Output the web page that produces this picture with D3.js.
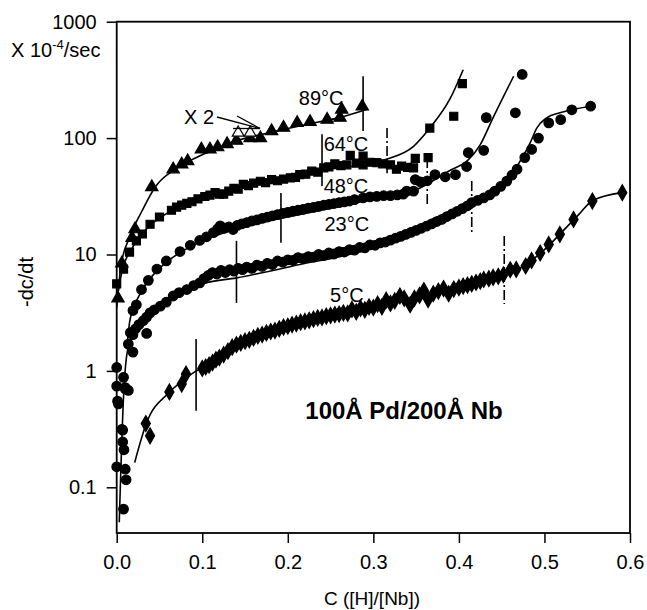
<!DOCTYPE html>
<html>
<head>
<meta charset="utf-8">
<script src="https://cdn.jsdelivr.net/npm/d3@7"></script>
<style>
  body { margin: 0; background: #fff; }
  svg text { font-family: "Liberation Sans", Arial, Helvetica, sans-serif; fill: #000; }
</style>
</head>
<body>
<script>
// ---- data: [C, -dc/dt] ----
const xTicks = [0.0, 0.1, 0.2, 0.3, 0.4, 0.5, 0.6];
const yTicks = [0.1, 1, 10, 100, 1000];
const yTickLabels = ['0.1', '1', '10', '100', '1000'];

// 89 C, triangles
const t89 = [[0.0015,4.2],[0.006,8.4],[0.018,13.9],[0.0215,16.5],[0.041,38],[0.066,54],[0.076,59.5],
  [0.083,63.5],[0.099,80],[0.109,80],[0.118,83.7],[0.129,88.9],[0.140,95],[0.156,100],[0.168,100],
  [0.181,115],[0.195,123],[0.211,135],[0.226,138],[0.246,144],[0.261,150],[0.263,176],[0.287,187]];
const t89open = [[0.142,111],[0.156,111]];
const fit89 = [[0.0,3.5],[0.005,8],[0.015,14],[0.03,24],[0.045,38],[0.07,55],[0.1,72],[0.14,95],
  [0.18,112],[0.22,130],[0.26,150],[0.294,178]];

// 64 C, squares
const t64 = [[0.0,5.6],[0.008,7.5],[0.015,10.5],[0.023,13.1],[0.030,15],[0.039,18.2],[0.050,21],
  [0.064,24],[0.070,25.5],[0.076,26.6],[0.082,27.5],[0.088,28.4],[0.095,30],[0.103,31.5],[0.109,32.4],
  [0.115,34],[0.120,33],[0.125,33],[0.131,35],[0.137,37],[0.142,36.5],[0.148,40],[0.154,39],[0.160,41],
  [0.168,42.6],[0.174,41.5],[0.181,44],[0.188,43],[0.195,44.5],[0.203,45.6],[0.209,46],[0.214,48.5],
  [0.221,49],[0.228,52],[0.235,51],[0.242,55.5],[0.248,56.5],[0.255,60],[0.262,58],[0.269,59],
  [0.273,71],[0.280,61],[0.288,70],[0.288,59],[0.296,62],[0.304,61.5],[0.311,60],[0.320,59],
  [0.327,54],[0.333,57.5],[0.340,56],[0.347,55.5],[0.349,67],[0.364,68],[0.366,122],[0.394,154],[0.404,294]];
const fit64 = [[0.0,4],[0.005,6.5],[0.02,12],[0.04,18],[0.07,25],[0.1,30],[0.15,39],[0.2,46],
  [0.24,53],[0.288,59],[0.316,66],[0.347,85],[0.366,122],[0.39,220],[0.405,387]];

// 48 C, circles
const t48 = [[0.019,3.3],[0.023,3.7],[0.029,5.0],[0.037,6.0],[0.047,7.5],[0.058,8.8],[0.074,10.6],
  [0.086,12.0],[0.097,13.2],[0.105,14.2],[0.113,15.4],[0.118,16.6],[0.121,17.6],[0.126,16.8],[0.131,17.3],
  [0.136,16.4],[0.141,17.8],[0.146,18.3],[0.152,18.8],[0.158,19.4],[0.164,19.8],[0.170,20.4],[0.176,20.9],
  [0.182,21.5],[0.188,22.0],[0.194,22.6],[0.200,23.0],[0.206,23.6],[0.212,24.0],[0.218,24.4],[0.224,25.0],
  [0.230,25.4],[0.236,25.9],[0.242,26.5],[0.248,26.9],[0.254,27.4],[0.260,27.9],[0.266,28.3],[0.272,28.8],
  [0.278,29.6],[0.288,30.6],[0.296,31.3],[0.304,31.6],[0.312,32.0],[0.320,32.0],[0.328,32.5],[0.335,33.0],
  [0.339,35.0],[0.347,35.0],[0.349,44.0],[0.355,42.0],[0.363,43.0],[0.372,48.5],[0.384,46.5],[0.396,48.5],
  [0.409,57.0],[0.411,75.0],[0.429,78.5],[0.432,150],[0.466,165],[0.474,352]];
const fit48 = [[0.012,1.6],[0.015,2.6],[0.02,3.5],[0.03,5.0],[0.05,7.6],[0.075,10.5],[0.1,13],[0.15,17.5],
  [0.2,21],[0.25,25],[0.3,30],[0.35,36],[0.39,53],[0.41,64],[0.425,88],[0.44,150],[0.464,340]];

// 23 C, circles
const t23 = [[0.0,0.74],[0.010,0.72],[0.0136,0.68],[0.002,0.52],[0.007,0.31],[0.007,0.245],[0.0085,0.21],
  [0.0,0.15],[0.010,0.143],[0.011,0.116],[0.008,0.065],[0.0,1.07],[0.008,0.88],[0.010,0.70],[0.001,0.55],
  [0.006,0.315],[0.0136,1.7],[0.016,2.13],[0.019,1.45],[0.019,2.05],[0.022,2.3],[0.026,2.5],[0.031,2.7],
  [0.035,2.1],[0.035,2.9],[0.039,3.15],[0.044,3.35],[0.051,3.6],[0.058,3.9],[0.066,4.4],[0.073,4.7],
  [0.082,5.0],[0.090,5.4],[0.097,5.7],[0.102,6.2],[0.107,6.6],[0.112,7.0],[0.117,6.8],[0.122,7.3],
  [0.127,7.0],[0.132,7.4],[0.137,7.2],[0.142,7.6],[0.147,7.4],[0.152,7.8],[0.158,7.6],[0.164,8.1],
  [0.170,7.9],[0.176,8.4],[0.182,8.2],[0.188,8.8],[0.194,8.6],[0.200,9.0],[0.206,8.9],[0.212,9.4],
  [0.218,9.2],[0.224,9.6],[0.230,9.5],[0.236,10.0],[0.242,9.8],[0.248,10.3],[0.254,10.1],[0.260,10.6],
  [0.266,10.5],[0.272,11.0],[0.278,10.9],[0.284,11.5],[0.290,11.4],[0.296,12.1],[0.302,12.0],[0.308,12.6],
  [0.314,12.8],[0.320,13.3],[0.326,13.8],[0.332,14.3],[0.338,14.9],[0.344,15.5],[0.350,16.1],[0.356,16.8],
  [0.362,17.5],[0.368,18.3],[0.374,19.2],[0.380,20.0],[0.386,21.2],[0.392,22.3],[0.398,23.5],[0.404,24.8],
  [0.410,26.2],[0.415,27.9],[0.422,29.2],[0.429,30.6],[0.436,32.5],[0.442,35],[0.449,38.5],[0.456,42.7],
  [0.462,48],[0.468,54],[0.477,68],[0.485,80],[0.493,100],[0.505,135],[0.519,144],[0.532,175],[0.554,188]];
const fit23 = [[0.003,0.05],[0.008,0.6],[0.012,1.4],[0.02,2.1],[0.035,2.9],[0.05,3.6],[0.07,4.5],
  [0.1,5.6],[0.14,6.3],[0.214,8.2],[0.285,10.7],[0.331,14.9],[0.386,22.8],[0.415,28],[0.44,34],
  [0.46,47],[0.475,70],[0.483,90],[0.491,122],[0.503,150],[0.518,165],[0.554,188]];

// 5 C, diamonds
const t5 = [[0.034,0.353],[0.039,0.277],[0.0616,0.66],[0.076,0.77],[0.081,0.94],[0.100,1.05],[0.104,1.08],
  [0.108,1.12],[0.112,1.18],[0.116,1.25],[0.120,1.30],[0.125,1.38],[0.130,1.48],[0.135,1.60],[0.140,1.68],
  [0.145,1.74],[0.150,1.80],[0.155,1.85],[0.160,1.92],[0.165,2.00],[0.170,2.05],[0.175,2.12],[0.180,2.18],
  [0.185,2.22],[0.190,2.30],[0.195,2.38],[0.200,2.42],[0.205,2.50],[0.210,2.55],[0.215,2.62],[0.220,2.66],
  [0.225,2.72],[0.230,2.78],[0.235,2.85],[0.240,2.88],[0.245,2.95],[0.250,3.00],[0.255,3.05],[0.260,3.08],
  [0.265,3.15],[0.270,3.12],[0.275,3.38],[0.280,3.22],[0.285,3.45],[0.290,3.35],[0.295,3.55],[0.300,3.50],
  [0.305,3.75],[0.310,3.55],[0.315,4.05],[0.320,3.80],[0.325,4.00],[0.331,4.40],[0.336,4.20],[0.343,3.70],
  [0.348,4.20],[0.354,4.45],[0.359,4.90],[0.364,4.10],[0.370,4.60],[0.376,4.85],[0.382,5.10],[0.388,4.60],
  [0.394,5.05],[0.400,5.20],[0.405,5.35],[0.410,5.45],[0.415,5.60],[0.420,5.75],[0.425,5.90],[0.429,6.10],
  [0.435,6.20],[0.440,6.35],[0.446,6.50],[0.452,6.70],[0.460,7.40],[0.467,7.45],[0.478,7.97],[0.485,8.9],
  [0.495,10.3],[0.505,12.2],[0.518,14.9],[0.534,20],[0.556,28.8],[0.591,34]];
const fit5 = [[0.021,0.163],[0.035,0.36],[0.06,0.64],[0.08,0.85],[0.093,1.0],[0.1,1.05],[0.14,1.65],
  [0.2,2.45],[0.25,2.95],[0.3,3.5],[0.35,4.2],[0.4,5.2],[0.45,6.6],[0.47,7.5],[0.485,8.9],[0.5,11],
  [0.52,15.5],[0.54,22],[0.556,29],[0.591,34]];

// vertical markers: [C, top, bottom, dashed]
const bounds = [[0.288,340,115,false],[0.24,108,38.7,false],[0.316,122,50,true],[0.192,33.7,12.6,false],
  [0.363,67.4,27.1,true],[0.140,13.1,3.84,false],[0.415,42.7,15.0,true],[0.0928,1.88,0.454,false],
  [0.453,14.4,3.76,true]];

// temperature labels: [text, C, value at baseline]
const tempLabels = [['89°C',0.239,192],['64°C',0.268,77.3],['48°C',0.268,33.7],['23°C',0.269,15.9],['5°C',0.269,3.91]];

// ---- layout ----
const W = 647, H = 610;
const svg = d3.select('body').append('svg').attr('width', W).attr('height', H);

const x = d3.scaleLinear().domain([0, 0.6]).range([116.7, 630]);
const y = d3.scaleLog().domain([0.0405, 1000]).range([533, 21.7]);

// frame
svg.append('rect')
  .attr('x', x(0)).attr('y', y(1000))
  .attr('width', x(0.6) - x(0)).attr('height', y(0.0405) - y(1000))
  .attr('fill', 'none').attr('stroke', '#000').attr('stroke-width', 1.8);

// axes
const xAxis = svg.append('g').attr('transform', `translate(0,${y(0.0405)})`)
  .call(d3.axisBottom(x).tickValues(xTicks).tickFormat(d3.format('.1f')).tickSize(10).tickPadding(12));
const yAxis = svg.append('g').attr('transform', `translate(${x(0)},0)`)
  .call(d3.axisLeft(y).tickValues(yTicks).tickFormat((d, i) => yTickLabels[i]).tickSize(10).tickPadding(10));
[xAxis, yAxis].forEach(a => {
  a.select('.domain').remove();
  a.selectAll('line').attr('stroke', '#000').attr('stroke-width', 1.5);
  a.selectAll('text').style('font-size', '20px').attr('fill', '#000');
});

// axis titles
svg.append('text').attr('x', 372).attr('y', 605).attr('text-anchor', 'middle')
  .style('font-size', '19px').text('C ([H]/[Nb])');
svg.append('text').attr('transform', 'translate(33,282) rotate(-90)').attr('text-anchor', 'middle')
  .style('font-size', '20px').text('-dc/dt');
const unit = svg.append('text').attr('x', 11).attr('y', 57).style('font-size', '20px');
unit.append('tspan').text('X 10');
unit.append('tspan').attr('dy', -8).style('font-size', '13px').text('-4');
unit.append('tspan').attr('dy', 8).text('/sec');

// fit lines
const line = d3.line().x(d => x(d[0])).y(d => y(d[1])).curve(d3.curveMonotoneX);
[fit89, fit64, fit48, fit23, fit5].forEach(f => {
  svg.append('path').attr('d', line(f)).attr('fill', 'none').attr('stroke', '#000').attr('stroke-width', 1.6);
});

// vertical boundary marks
svg.selectAll('line.bound').data(bounds).join('line').attr('class', 'bound')
  .attr('x1', d => x(d[0])).attr('x2', d => x(d[0]))
  .attr('y1', d => y(d[1])).attr('y2', d => y(d[2]))
  .attr('stroke', '#000').attr('stroke-width', 1.6)
  .attr('stroke-dasharray', d => d[3] ? '10,3,2,3' : null);

// markers
const sym = (type, size) => d3.symbol().type(type).size(size)();
function drawPoints(data, type, size, fill) {
  svg.append('g').selectAll('path').data(data).join('path')
    .attr('transform', d => `translate(${x(d[0])},${y(d[1])})`)
    .attr('d', sym(type, size))
    .attr('fill', fill).attr('stroke', '#000').attr('stroke-width', 1.2);
}
drawPoints(t89, d3.symbolTriangle, 66, '#000');
drawPoints(t89open, d3.symbolTriangle, 60, '#fff');
drawPoints(t64, d3.symbolSquare, 64, '#000');
drawPoints(t48, d3.symbolCircle, 72, '#000');
drawPoints(t23, d3.symbolCircle, 72, '#000');
drawPoints(t5, d3.symbolDiamond, 72, '#000');

// "X 2" annotation with arrow lines
svg.append('text').attr('x', 184).attr('y', 124).style('font-size', '20px').text('X 2');
svg.append('line').attr('x1', 217).attr('y1', 117).attr('x2', 260).attr('y2', 128.5).attr('stroke', '#000').attr('stroke-width', 1.3);
svg.append('line').attr('x1', 237).attr('y1', 116).attr('x2', 260).attr('y2', 128.5).attr('stroke', '#000').attr('stroke-width', 1.3);
svg.append('line').attr('x1', 233).attr('y1', 128.5).attr('x2', 260).attr('y2', 128.5).attr('stroke', '#000').attr('stroke-width', 1.3);

// temperature labels
svg.selectAll('text.temp').data(tempLabels).join('text').attr('class', 'temp')
  .attr('x', d => x(d[1])).attr('y', d => y(d[2]))
  .attr('text-anchor', 'middle').style('font-size', '20px')
  .text(d => d[0]);

// sample label
svg.append('text').attr('x', 404).attr('y', 419).attr('text-anchor', 'middle')
  .style('font-size', '24px').style('font-weight', 'bold').text('100Å Pd/200Å Nb');
</script>
</body>
</html>
